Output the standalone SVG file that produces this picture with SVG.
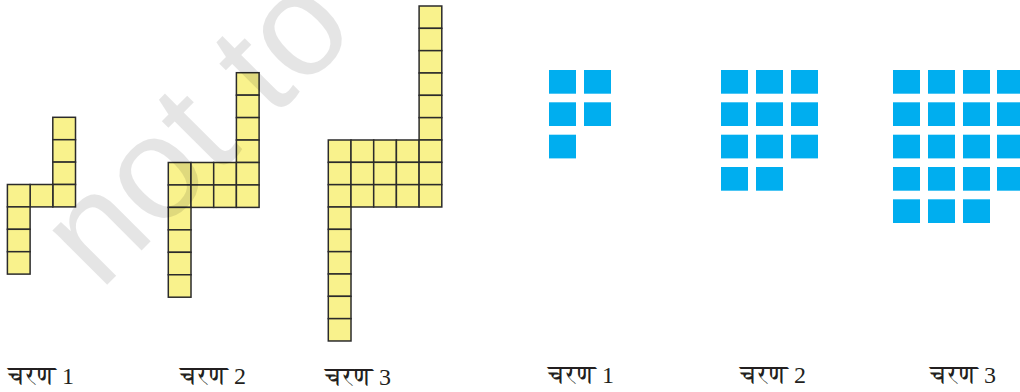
<svg xmlns="http://www.w3.org/2000/svg" width="1020" height="392" viewBox="0 0 1020 392">
<style>
.y{fill:#f9f28c;stroke:#2b2b2b;stroke-width:1.5}
.b{fill:#00aeef}
.lbl{font-family:"Liberation Serif","FreeSerif","Noto Serif Devanagari","Lohit Devanagari","Noto Sans Devanagari",serif;font-size:24px;font-weight:normal;fill:#231f20}
.dv{font-size:26px}
.wm{font-family:"Liberation Sans",Arial,sans-serif;font-size:146px;fill:#000;fill-opacity:0.1}
</style>
<rect width="1020" height="392" fill="#fff"/>
<g id="yellow-stage1">
<rect class="y" x="52.8" y="117.3" width="22.7" height="22.4"/>
<rect class="y" x="52.8" y="139.7" width="22.7" height="22.4"/>
<rect class="y" x="52.8" y="162.1" width="22.7" height="22.4"/>
<rect class="y" x="52.8" y="184.5" width="22.7" height="22.4"/>
<rect class="y" x="30.1" y="184.5" width="22.7" height="22.4"/>
<rect class="y" x="7.4" y="184.5" width="22.7" height="22.4"/>
<rect class="y" x="7.4" y="206.9" width="22.7" height="22.4"/>
<rect class="y" x="7.4" y="229.3" width="22.7" height="22.4"/>
<rect class="y" x="7.4" y="251.7" width="22.7" height="22.4"/>
</g>
<g id="yellow-stage2">
<rect class="y" x="236.4" y="72.7" width="22.7" height="22.45"/>
<rect class="y" x="236.4" y="95.15" width="22.7" height="22.45"/>
<rect class="y" x="236.4" y="117.6" width="22.7" height="22.45"/>
<rect class="y" x="236.4" y="140.05" width="22.7" height="22.45"/>
<rect class="y" x="168.3" y="162.5" width="22.7" height="22.45"/>
<rect class="y" x="191" y="162.5" width="22.7" height="22.45"/>
<rect class="y" x="213.7" y="162.5" width="22.7" height="22.45"/>
<rect class="y" x="236.4" y="162.5" width="22.7" height="22.45"/>
<rect class="y" x="168.3" y="184.95" width="22.7" height="22.45"/>
<rect class="y" x="191" y="184.95" width="22.7" height="22.45"/>
<rect class="y" x="213.7" y="184.95" width="22.7" height="22.45"/>
<rect class="y" x="236.4" y="184.95" width="22.7" height="22.45"/>
<rect class="y" x="168.3" y="207.4" width="22.7" height="22.45"/>
<rect class="y" x="168.3" y="229.85" width="22.7" height="22.45"/>
<rect class="y" x="168.3" y="252.3" width="22.7" height="22.45"/>
<rect class="y" x="168.3" y="274.75" width="22.7" height="22.45"/>
</g>
<g id="yellow-stage3">
<rect class="y" x="419.1" y="6" width="22.7" height="22.33"/>
<rect class="y" x="419.1" y="28.33" width="22.7" height="22.33"/>
<rect class="y" x="419.1" y="50.66" width="22.7" height="22.33"/>
<rect class="y" x="419.1" y="72.99" width="22.7" height="22.33"/>
<rect class="y" x="419.1" y="95.32" width="22.7" height="22.33"/>
<rect class="y" x="419.1" y="117.65" width="22.7" height="22.33"/>
<rect class="y" x="328.3" y="140" width="22.7" height="22.33"/>
<rect class="y" x="351" y="140" width="22.7" height="22.33"/>
<rect class="y" x="373.7" y="140" width="22.7" height="22.33"/>
<rect class="y" x="396.4" y="140" width="22.7" height="22.33"/>
<rect class="y" x="419.1" y="140" width="22.7" height="22.33"/>
<rect class="y" x="328.3" y="162.33" width="22.7" height="22.33"/>
<rect class="y" x="351" y="162.33" width="22.7" height="22.33"/>
<rect class="y" x="373.7" y="162.33" width="22.7" height="22.33"/>
<rect class="y" x="396.4" y="162.33" width="22.7" height="22.33"/>
<rect class="y" x="419.1" y="162.33" width="22.7" height="22.33"/>
<rect class="y" x="328.3" y="184.66" width="22.7" height="22.33"/>
<rect class="y" x="351" y="184.66" width="22.7" height="22.33"/>
<rect class="y" x="373.7" y="184.66" width="22.7" height="22.33"/>
<rect class="y" x="396.4" y="184.66" width="22.7" height="22.33"/>
<rect class="y" x="419.1" y="184.66" width="22.7" height="22.33"/>
<rect class="y" x="328.3" y="207" width="22.7" height="22.33"/>
<rect class="y" x="328.3" y="229.33" width="22.7" height="22.33"/>
<rect class="y" x="328.3" y="251.66" width="22.7" height="22.33"/>
<rect class="y" x="328.3" y="273.99" width="22.7" height="22.33"/>
<rect class="y" x="328.3" y="296.32" width="22.7" height="22.33"/>
<rect class="y" x="328.3" y="318.65" width="22.7" height="22.33"/>
</g>
<g id="blue-stage1">
<rect class="b" x="549" y="70" width="27" height="23.7"/>
<rect class="b" x="584" y="70" width="27" height="23.7"/>
<rect class="b" x="549" y="102.3" width="27" height="23.7"/>
<rect class="b" x="584" y="102.3" width="27" height="23.7"/>
<rect class="b" x="549" y="134.7" width="27" height="23.7"/>
</g>
<g id="blue-stage2">
<rect class="b" x="721" y="70" width="27" height="23.7"/>
<rect class="b" x="756" y="70" width="27" height="23.7"/>
<rect class="b" x="791" y="70" width="27" height="23.7"/>
<rect class="b" x="721" y="102.3" width="27" height="23.7"/>
<rect class="b" x="756" y="102.3" width="27" height="23.7"/>
<rect class="b" x="791" y="102.3" width="27" height="23.7"/>
<rect class="b" x="721" y="134.7" width="27" height="23.7"/>
<rect class="b" x="756" y="134.7" width="27" height="23.7"/>
<rect class="b" x="791" y="134.7" width="27" height="23.7"/>
<rect class="b" x="721" y="167" width="27" height="23.7"/>
<rect class="b" x="756" y="167" width="27" height="23.7"/>
</g>
<g id="blue-stage3">
<rect class="b" x="893" y="70" width="27" height="23.7"/>
<rect class="b" x="928" y="70" width="27" height="23.7"/>
<rect class="b" x="963" y="70" width="27" height="23.7"/>
<rect class="b" x="997" y="70" width="27" height="23.7"/>
<rect class="b" x="893" y="102.3" width="27" height="23.7"/>
<rect class="b" x="928" y="102.3" width="27" height="23.7"/>
<rect class="b" x="963" y="102.3" width="27" height="23.7"/>
<rect class="b" x="997" y="102.3" width="27" height="23.7"/>
<rect class="b" x="893" y="134.7" width="27" height="23.7"/>
<rect class="b" x="928" y="134.7" width="27" height="23.7"/>
<rect class="b" x="963" y="134.7" width="27" height="23.7"/>
<rect class="b" x="997" y="134.7" width="27" height="23.7"/>
<rect class="b" x="893" y="167" width="27" height="23.7"/>
<rect class="b" x="928" y="167" width="27" height="23.7"/>
<rect class="b" x="963" y="167" width="27" height="23.7"/>
<rect class="b" x="997" y="167" width="27" height="23.7"/>
<rect class="b" x="893" y="199.3" width="27" height="23.7"/>
<rect class="b" x="928" y="199.3" width="27" height="23.7"/>
<rect class="b" x="963" y="199.3" width="27" height="23.7"/>
</g>
<g id="labels">
<text class="lbl" x="8" y="384"><tspan class="dv">चरण</tspan> 1</text>
<text class="lbl" x="180" y="384"><tspan class="dv">चरण</tspan> 2</text>
<text class="lbl" x="325" y="385"><tspan class="dv">चरण</tspan> 3</text>
<text class="lbl" x="548" y="383"><tspan class="dv">चरण</tspan> 1</text>
<text class="lbl" x="740" y="383"><tspan class="dv">चरण</tspan> 2</text>
<text class="lbl" x="930" y="383"><tspan class="dv">चरण</tspan> 3</text>
</g>
<g id="connectors"/>
<text class="wm" x="100" y="292" transform="rotate(-45 100 292)">not to</text>
</svg>
